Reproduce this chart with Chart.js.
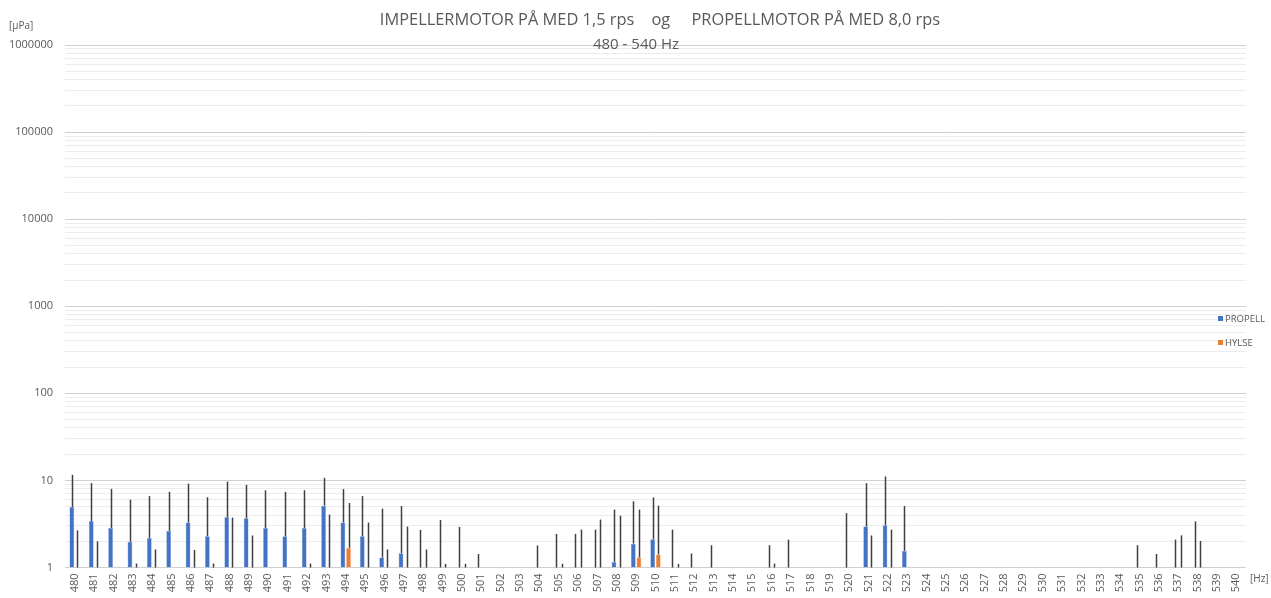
<!DOCTYPE html>
<html><head><meta charset="utf-8">
<script src="https://cdn.jsdelivr.net/npm/chart.js@4.4.0/dist/chart.umd.min.js"></script>
<style>html,body{margin:0;padding:0;background:#fff;}#wrap{width:1271px;height:598px;position:relative;}</style>
</head><body><div id="wrap"><canvas id="c" width="1271" height="598"></canvas></div>
<script>
const categories = ['480','481','482','483','484','485','486','487','488','489','490','491','492','493','494','495','496','497','498','499','500','501','502','503','504','505','506','507','508','509','510','511','512','513','514','515','516','517','518','519','520','521','522','523','524','525','526','527','528','529','530','531','532','533','534','535','536','537','538','539','540'];
// PROPELL bar heights
const propell = [4.94,3.42,2.84,1.97,2.18,2.63,3.28,2.28,3.80,3.67,2.84,2.28,2.84,5.13,3.28,2.28,1.30,1.46,null,null,null,null,null,null,null,null,null,null,1.16,1.88,2.11,null,null,null,null,null,null,null,null,null,null,2.95,3.05,1.55,null,null,null,null,null,null,null,null,null,null,null,null,null,null,null,null,null];
// PROPELL whisker tops
const propellTop = [11.6,9.3,8.0,6.0,6.6,7.4,9.2,6.4,9.7,8.9,7.7,7.4,7.7,10.7,7.95,6.6,4.74,5.08,2.7,3.51,2.92,1.43,null,null,1.79,2.43,2.43,2.72,4.62,5.75,6.38,2.72,1.45,1.80,null,null,1.80,2.09,null,null,4.22,9.3,11.1,5.08,null,null,null,null,null,null,null,null,null,null,null,1.80,1.43,2.09,3.39,null,null];
// HYLSE bar heights
const hylse = [null,null,null,null,null,null,null,null,null,null,null,null,null,null,1.68,null,null,null,null,null,null,null,null,null,null,null,null,null,null,1.30,1.41,null,null,null,null,null,null,null,null,null,null,null,null,null,null,null,null,null,null,null,null,null,null,null,null,null,null,null,null,null,null];
// HYLSE whisker tops
const hylseTop = [2.67,2.0,null,1.11,1.61,null,1.59,1.11,3.74,2.33,null,null,1.11,4.05,5.5,3.28,1.61,2.95,1.61,1.1,1.1,null,null,null,null,1.1,2.72,3.55,3.94,4.62,5.13,1.1,null,null,null,null,1.11,null,null,null,null,2.33,2.72,null,null,null,null,null,null,null,null,null,null,null,null,null,null,2.34,2.02,null,null];
const yMajorTicks = [1,10,100,1000,10000,100000,1000000];
const yTickLabels = ['1','10','100','1000','10000','100000','1000000'];
const seriesNames = ['PROPELL','HYLSE'];
const titleLine1 = 'IMPELLERMOTOR PÅ MED 1,5 rps    og     PROPELLMOTOR PÅ MED 8,0 rps';
const titleLine2 = '480 - 540 Hz';
const yUnit = '[µPa]';
const xUnit = '[Hz]';

const FONT = "'Open Sans', 'Liberation Sans', sans-serif";
const TXT = '#595959';
const whiskerTops = [propellTop, hylseTop];

const whiskerPlugin = {
  id: 'whiskers',
  afterDatasetsDraw(chart) {
    const ctx = chart.ctx, y = chart.scales.y;
    ctx.save();
    ctx.strokeStyle = '#3f3f3f';
    ctx.lineWidth = 1.5;
    chart.data.datasets.forEach((ds, di) => {
      const meta = chart.getDatasetMeta(di);
      const tops = whiskerTops[di];
      meta.data.forEach((el, j) => {
        const t = tops[j];
        if (t == null) return;
        const v = ds.data[j] == null ? 1 : Math.max(ds.data[j], 1);
        const x = Math.round(el.x) + 0.5;
        ctx.beginPath();
        ctx.moveTo(x, y.getPixelForValue(v));
        ctx.lineTo(x, y.getPixelForValue(t));
        ctx.stroke();
      });
    });
    ctx.restore();
  }
};

const decorPlugin = {
  id: 'decor',
  afterDraw(chart) {
    const ctx = chart.ctx;
    ctx.save();
    ctx.fillStyle = TXT;
    ctx.textBaseline = 'alphabetic';
    ctx.font = "16.4px " + FONT;
    ctx.textAlign = 'center';
    ctx.fillText(titleLine1, 660, 25);
    ctx.font = "15px " + FONT;
    ctx.fillText(titleLine2, 636, 49);
    ctx.font = "10px " + FONT;
    ctx.textAlign = 'left';
    ctx.fillText(yUnit, 9, 29);
    ctx.fillText(xUnit, 1250, 582);
    // legend
    const ys = [318.5, 342.5];
    chart.data.datasets.forEach((ds, i) => {
      ctx.fillStyle = ds.backgroundColor;
      ctx.fillRect(1218, ys[i] - 2.5, 5, 5);
      ctx.fillStyle = TXT;
      ctx.font = "9.5px " + FONT;
      ctx.textBaseline = 'middle';
      ctx.fillText(ds.label, 1225, ys[i] + 0.5);
    });
    ctx.restore();
  }
};

new Chart(document.getElementById('c'), {
  type: 'bar',
  data: {
    labels: categories,
    datasets: [
      { label: seriesNames[0], data: propell, backgroundColor: '#4472C4', borderColor: '#6f93d6', borderWidth: 0.5, barPercentage: 0.84, categoryPercentage: 0.58 },
      { label: seriesNames[1], data: hylse, backgroundColor: '#ED7D31', borderColor: '#f19a5e', borderWidth: 0.5, barPercentage: 0.84, categoryPercentage: 0.58 }
    ]
  },
  options: {
    responsive: false,
    animation: false,
    devicePixelRatio: 1,
    layout: { padding: { top: 45, right: 25, left: 0, bottom: 0 } },
    plugins: { legend: { display: false }, title: { display: false }, tooltip: { enabled: false } },
    scales: {
      x: {
        grid: { display: false, drawTicks: false },
        border: { display: false },
        ticks: { autoSkip: false, minRotation: 90, maxRotation: 90, padding: 6, color: TXT, font: { family: FONT, size: 11 } },
        afterFit(s) { s.height = 30.5; }
      },
      y: {
        type: 'logarithmic',
        min: 1, max: 1000000,
        border: { display: false },
        grid: {
          drawTicks: false,
          lineWidth: 1,
          color: c => yMajorTicks.includes(c.tick.value) ? '#d0d0d0' : '#ececec'
        },
        afterBuildTicks(s) {
          const t = [];
          yMajorTicks.forEach(m => {
            if (m === 1000000) { t.push({ value: m }); return; }
            for (let k = 1; k <= 9; k++) t.push({ value: m * k });
          });
          s.ticks = t;
        },
        ticks: {
          autoSkip: false, padding: 12, color: TXT, font: { family: FONT, size: 11 },
          callback: v => { const i = yMajorTicks.indexOf(v); return i >= 0 ? yTickLabels[i] : ''; }
        },
        afterFit(s) { s.width = 65; }
      }
    }
  },
  plugins: [whiskerPlugin, decorPlugin]
});
</script></body></html>
